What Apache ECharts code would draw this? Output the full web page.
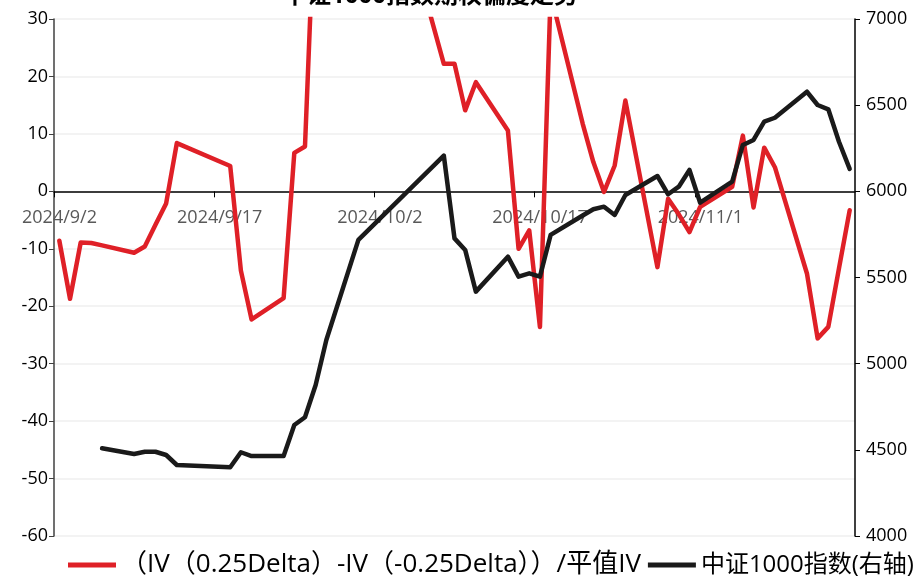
<!DOCTYPE html>
<html lang="zh">
<head>
    <meta charset="UTF-8">
    <script src="https://cdn.jsdelivr.net/npm/echarts@6/dist/echarts.min.js"></script>
    <style>
        * {
            margin: 0;
            padding: 0;
        }
        #chart {
            width: 924px;
            height: 577px;
            background: #fff;
        }
    </style>
</head>
<body>
<div id="chart"></div>

<script>
    // trading days
    const dates = [
        '2024-09-02', '2024-09-03', '2024-09-04', '2024-09-05', '2024-09-06',
        '2024-09-09', '2024-09-10', '2024-09-11', '2024-09-12', '2024-09-13',
        '2024-09-18', '2024-09-19', '2024-09-20',
        '2024-09-23', '2024-09-24', '2024-09-25', '2024-09-26', '2024-09-27',
        '2024-09-30',
        '2024-10-08', '2024-10-09', '2024-10-10', '2024-10-11',
        '2024-10-14', '2024-10-15', '2024-10-16', '2024-10-17', '2024-10-18',
        '2024-10-21', '2024-10-22', '2024-10-23', '2024-10-24', '2024-10-25',
        '2024-10-28', '2024-10-29', '2024-10-30', '2024-10-31', '2024-11-01',
        '2024-11-04', '2024-11-05', '2024-11-06', '2024-11-07', '2024-11-08',
        '2024-11-11', '2024-11-12', '2024-11-13', '2024-11-14', '2024-11-15'
    ];

    // (IV(0.25Delta)-IV(-0.25Delta))/ATM IV
    const skew = [
        -8.6, -18.7, -8.9, -9.0, -9.4,
        -10.7, -9.6, -5.8, -2.1, 8.4,
        4.4, -13.8, -22.3,
        -18.6, 6.7, 7.8, 54, 62,
        76,
        22.2, 22.2, 14.1, 19.0,
        10.6, -10.0, -6.8, -23.6, 34.4,
        11.8, 5.1, -0.1, 4.5, 15.8,
        -13.2, -1.3, -4.0, -7.1, -2.7,
        0.8, 9.7, -2.8, 7.6, 4.2,
        -14.3, -25.6, -23.6, -13.4, -3.3
    ];

    // CSI 1000 index (right axis)
    const csi1000 = [
        null, null, null, null, 4509,
        4476, 4489, 4489, 4470, 4412,
        4399, 4486, 4464,
        4464, 4644, 4689, 4876, 5137,
        5718,
        6207, 5727, 5660, 5418,
        5621, 5505, 5524, 5505, 5747,
        5860, 5896, 5911, 5863, 5979,
        6089, 5983, 6027, 6124, 5934,
        6056, 6269, 6298, 6404, 6427,
        6578, 6501, 6476, 6288, 6130
    ];

    const seriesNames = ['（IV（0.25Delta）-IV（-0.25Delta））/平值IV', '中证1000指数(右轴)'];
    const titleText = '中证1000指数期权偏度走势';

    const startDay = Date.UTC(2024, 8, 2);
    const DAY = 86400000;
    const toDay = s => {
        const p = s.split('-').map(Number);
        return (Date.UTC(p[0], p[1] - 1, p[2]) - startDay) / DAY + 0.5;
    };
    const dayLabel = v => {
        const d = new Date(startDay + v * DAY);
        return `${d.getUTCFullYear()}/${d.getUTCMonth() + 1}/${d.getUTCDate()}`;
    };

    const font = '"Open Sans", "Noto Sans CJK SC", sans-serif';

    const gridTop = 19, gridBottom = 41, chartH = 577;
    // x axis sits on the zero line of the left axis (-60..30)
    const zeroOffset = -(chartH - gridTop - gridBottom) * 60 / 90;

    const chart = echarts.init(document.getElementById('chart'), null, {renderer: 'canvas'});

    const option = {
        animation: false,
        textStyle: {fontFamily: font},
        title: {
            text: titleText,
            left: 283,
            top: -16,
            padding: 0,
            textStyle: {fontSize: 24, fontWeight: 'bold', color: '#000', fontFamily: font}
        },
        grid: {left: 54, right: 69, top: gridTop, bottom: gridBottom, containLabel: false},
        legend: {
            left: 68,
            bottom: -1,
            width: 900,
            padding: 0,
            itemWidth: 48,
            itemHeight: 5,
            itemGap: 7,
            icon: 'rect',
            textStyle: {fontSize: 26, color: '#000', fontFamily: font},
            data: [
                {name: seriesNames[0]},
                {name: seriesNames[1], textStyle: {fontSize: 24}}
            ]
        },
        xAxis: {
            type: 'value',
            min: 0,
            max: 75,
            interval: 15,
            position: 'bottom',
            offset: zeroOffset,
            axisLine: {onZero: false, lineStyle: {color: '#000', width: 1.5}},
            axisTick: {show: true, length: 6, lineStyle: {color: '#000', width: 1}},
            axisLabel: {
                color: '#595959',
                fontSize: 18,
                margin: 18,
                padding: [0, 0, 0, 11],
                showMaxLabel: false,
                formatter: v => dayLabel(v)
            },
            splitLine: {show: false}
        },
        yAxis: [
            {
                type: 'value',
                min: -60,
                max: 30,
                interval: 10,
                axisLine: {show: true, lineStyle: {color: '#404040', width: 1.5}},
                axisTick: {show: true, length: 5, lineStyle: {color: '#404040'}},
                axisLabel: {color: '#000', fontSize: 18, margin: 6, formatter: v => String(v)},
                splitLine: {show: true, lineStyle: {color: '#efefef', width: 1.5}}
            },
            {
                type: 'value',
                min: 4000,
                max: 7000,
                interval: 500,
                position: 'right',
                axisLine: {show: true, lineStyle: {color: '#000', width: 1.5}},
                axisTick: {show: true, length: 5, lineStyle: {color: '#000'}},
                axisLabel: {color: '#000', fontSize: 18, margin: 11, formatter: v => String(v)},
                splitLine: {show: false}
            }
        ],
        series: [
            {
                name: seriesNames[0],
                type: 'line',
                yAxisIndex: 0,
                symbol: 'none',
                color: '#df2027',
                lineStyle: {width: 4.5, color: '#df2027', join: 'round', cap: 'round'},
                data: dates.map((d, i) => [toDay(d), skew[i]])
            },
            {
                name: seriesNames[1],
                type: 'line',
                yAxisIndex: 1,
                symbol: 'none',
                color: '#1a1a1a',
                lineStyle: {width: 4.5, color: '#1a1a1a', join: 'round', cap: 'round'},
                data: dates.map((d, i) => [toDay(d), csi1000[i]]).filter(p => p[1] !== null)
            }
        ]
    };

    chart.setOption(option);
</script>
</body>
</html>
